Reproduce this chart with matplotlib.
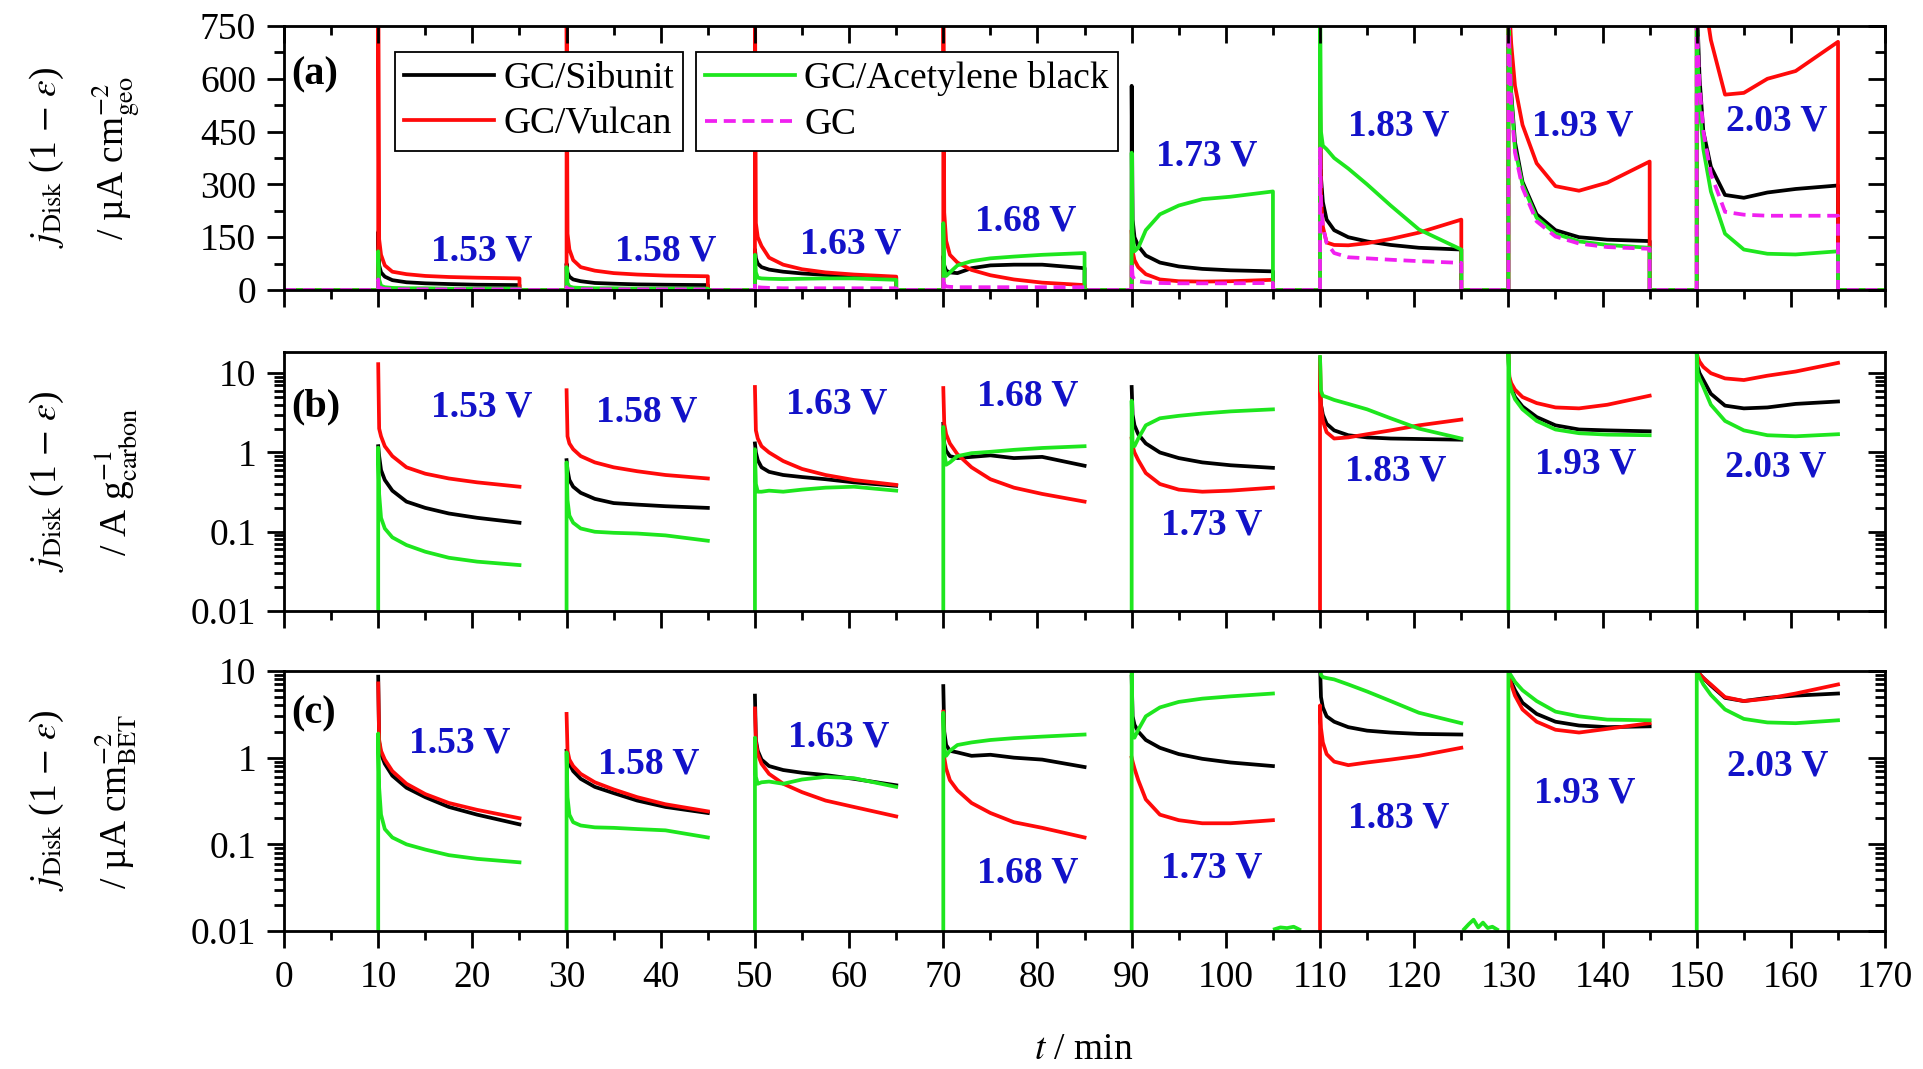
import numpy as np
import matplotlib.pyplot as plt
from matplotlib.ticker import MultipleLocator, FixedLocator, LogLocator, NullFormatter
from matplotlib.lines import Line2D

plt.rcParams['font.family'] = ['Liberation Serif', 'DejaVu Serif']
plt.rcParams['mathtext.fontset'] = 'stix'

# --- data ---
# potential steps: each held 15 min, starting at these times (min)
step_start = [10, 30, 50, 70, 90, 110, 130, 150]
step_len = 15
step_labels = ['1.53 V', '1.58 V', '1.63 V', '1.68 V', '1.73 V', '1.83 V', '1.93 V', '2.03 V']
# time offsets inside each step where values were read (min)
dt = [0, 0.1, 0.3, 0.7, 1.5, 3, 5, 7.5, 10.5, 15]

# (a) j_Disk(1-eps) / uA cm-2 geo
a_sibunit = [
    [165, 70, 50, 38, 28, 22, 19, 17, 15, 14],
    [75, 50, 38, 30, 25, 20, 18, 16, 15, 14],
    [115, 90, 75, 65, 58, 52, 47, 43, 39, 36],
    [96, 70, 55, 50, 48, 62, 70, 72, 72, 62],
    [580, 200, 150, 125, 98, 78, 67, 60, 56, 53],
    [500, 320, 250, 200, 170, 150, 138, 128, 120, 115],
    [900, 700, 560, 420, 307, 215, 170, 150, 143, 139],
    [900, 750, 600, 450, 350, 270, 262, 277, 287, 297],
]
a_vulcan = [
    [900, 144, 100, 70, 52, 45, 40, 37, 35, 33],
    [900, 160, 115, 85, 65, 55, 48, 44, 41, 39],
    [900, 190, 150, 125, 92, 72, 59, 50, 44, 38],
    [900, 220, 140, 100, 78, 57, 42, 30, 21, 14],
    [170, 110, 85, 65, 45, 30, 25, 24, 25, 29],
    [560, 260, 180, 135, 128, 127, 133, 145, 163, 200],
    [900, 800, 700, 580, 469, 360, 295, 282, 305, 365],
    [900, 900, 900, 850, 710, 555, 560, 600, 622, 705],
]
a_acetylene = [
    [110, 30, 12, 8, 6, 5, 5, 4, 4, 4],
    [65, 20, 10, 7, 6, 5, 5, 4, 4, 4],
    [100, 50, 35, 33, 32, 31, 32, 33, 33, 29],
    [190, 60, 40, 50, 70, 82, 90, 95, 100, 105],
    [390, 160, 110, 120, 170, 215, 240, 258, 265, 280],
    [900, 450, 410, 400, 375, 345, 300, 240, 172, 115],
    [900, 700, 550, 400, 300, 205, 160, 138, 128, 120],
    [900, 650, 520, 400, 280, 160, 115, 103, 101, 110],
]
a_gc = [
    [30, 10, 5, 3, 2, 2, 2, 2, 2, 2],
    [8, 4, 3, 2, 2, 2, 2, 2, 2, 2],
    [20, 10, 8, 7, 6, 5, 5, 5, 5, 5],
    [38, 15, 10, 9, 8, 8, 8, 8, 8, 8],
    [77, 40, 29, 25, 22, 20, 19, 19, 19, 20],
    [402, 250, 180, 134, 105, 93, 90, 86, 82, 77],
    [900, 680, 530, 390, 290, 195, 152, 132, 122, 117],
    [900, 700, 580, 450, 330, 222, 214, 211, 211, 211],
]

# (b) j_Disk(1-eps) / A g-1 carbon
b_sibunit = [
    [1.2, 0.9, 0.6, 0.45, 0.33, 0.24, 0.2, 0.17, 0.15, 0.13],
    [0.8, 0.6, 0.45, 0.37, 0.31, 0.26, 0.23, 0.22, 0.21, 0.2],
    [1.3, 1.0, 0.8, 0.65, 0.57, 0.52, 0.49, 0.46, 0.42, 0.38],
    [2.3, 1.3, 1.05, 0.9, 0.85, 0.88, 0.92, 0.85, 0.88, 0.68],
    [6.7, 3.0, 2.2, 1.7, 1.3, 1.0, 0.85, 0.75, 0.69, 0.64],
    [6.0, 4.0, 3.0, 2.3, 1.9, 1.65, 1.55, 1.5, 1.48, 1.45],
    [18, 8, 6.5, 5.0, 3.8, 2.8, 2.2, 1.95, 1.9, 1.85],
    [18, 12, 10, 8.2, 5.5, 3.9, 3.6, 3.7, 4.1, 4.4],
]
b_vulcan = [
    [13, 2.0, 1.6, 1.2, 0.9, 0.65, 0.54, 0.47, 0.42, 0.37],
    [6.1, 1.6, 1.3, 1.1, 0.9, 0.75, 0.65, 0.58, 0.52, 0.47],
    [6.7, 1.9, 1.5, 1.2, 1.0, 0.78, 0.62, 0.52, 0.45, 0.39],
    [6.5, 2.3, 1.7, 1.3, 0.95, 0.65, 0.46, 0.36, 0.3, 0.24],
    [1.5, 1.2, 1.0, 0.8, 0.55, 0.4, 0.34, 0.32, 0.33, 0.36],
    [16, 4.0, 2.5, 1.8, 1.5, 1.55, 1.7, 1.9, 2.2, 2.6],
    [18, 9, 7.5, 6.2, 5.0, 4.2, 3.7, 3.6, 4.0, 5.2],
    [18, 16, 14, 12, 10, 8.6, 8.2, 9.3, 10.5, 13.5],
]
b_acetylene = [
    [1.15, 0.3, 0.15, 0.11, 0.085, 0.068, 0.056, 0.047, 0.042, 0.038],
    [0.75, 0.25, 0.16, 0.13, 0.11, 0.1, 0.097, 0.095, 0.09, 0.077],
    [1.1, 0.4, 0.32, 0.32, 0.33, 0.32, 0.34, 0.36, 0.37, 0.33],
    [2.1, 1.0, 0.7, 0.75, 0.9, 0.98, 1.02, 1.08, 1.14, 1.2],
    [4.5, 1.3, 1.2, 1.5, 2.2, 2.7, 2.9, 3.1, 3.3, 3.5],
    [16, 6.0, 5.2, 5.0, 4.6, 4.1, 3.5, 2.7, 2.0, 1.5],
    [18.6, 8, 6.2, 4.7, 3.5, 2.5, 1.95, 1.75, 1.68, 1.65],
    [18, 10, 8.5, 6.7, 4.0, 2.5, 1.9, 1.65, 1.6, 1.7],
]

# (c) j_Disk(1-eps) / uA cm-2 BET
c_sibunit = [
    [8.6, 1.5, 1.1, 0.85, 0.62, 0.45, 0.35, 0.27, 0.22, 0.17],
    [1.2, 1.0, 0.85, 0.7, 0.57, 0.46, 0.39, 0.32, 0.27, 0.23],
    [5.2, 1.6, 1.2, 0.95, 0.8, 0.72, 0.67, 0.63, 0.57, 0.48],
    [6.7, 2.0, 1.4, 1.2, 1.15, 1.05, 1.08, 1.0, 0.95, 0.78],
    [8.6, 3.0, 2.4, 2.0, 1.6, 1.3, 1.1, 0.97, 0.88, 0.8],
    [12, 5.0, 3.8, 3.0, 2.6, 2.25, 2.05, 1.95, 1.88, 1.85],
    [12, 9, 7.5, 6, 4.3, 3.2, 2.6, 2.35, 2.25, 2.3],
    [12, 9.7, 9.2, 8.3, 6.8, 4.9, 4.5, 4.9, 5.2, 5.5],
]
c_vulcan = [
    [7.2, 1.6, 1.2, 0.95, 0.7, 0.5, 0.38, 0.3, 0.25, 0.2],
    [3.2, 1.2, 0.95, 0.8, 0.65, 0.52, 0.43, 0.35, 0.29, 0.24],
    [3.7, 1.5, 1.1, 0.85, 0.65, 0.5, 0.4, 0.32, 0.27, 0.21],
    [3.4, 1.0, 0.75, 0.55, 0.42, 0.3, 0.23, 0.18, 0.155, 0.12],
    [1.0, 0.9, 0.75, 0.55, 0.33, 0.22, 0.19, 0.175, 0.175, 0.19],
    [4.0, 2.2, 1.5, 1.1, 0.9, 0.82, 0.88, 0.95, 1.05, 1.3],
    [12, 8.5, 7, 5.2, 3.6, 2.6, 2.1, 1.95, 2.15, 2.5],
    [12, 9.7, 9.2, 8.3, 7.0, 5.0, 4.5, 4.8, 5.5, 7.0],
]
c_acetylene = [
    [1.9, 0.45, 0.22, 0.15, 0.12, 0.1, 0.087, 0.075, 0.068, 0.062],
    [1.15, 0.35, 0.22, 0.18, 0.165, 0.157, 0.155, 0.15, 0.145, 0.12],
    [1.7, 0.6, 0.5, 0.52, 0.53, 0.5, 0.56, 0.6, 0.58, 0.46],
    [3.3, 1.3, 1.05, 1.2, 1.4, 1.5, 1.6, 1.68, 1.75, 1.85],
    [12, 1.8, 1.7, 2.1, 3.0, 3.8, 4.4, 4.8, 5.1, 5.5],
    [12, 9, 8.5, 8.3, 8.0, 7.0, 5.8, 4.5, 3.3, 2.5],
    [12, 9.5, 8.8, 7.5, 6.0, 4.5, 3.4, 3.0, 2.75, 2.7],
    [12, 9.5, 8.5, 7.0, 5.3, 3.6, 2.8, 2.55, 2.5, 2.7],
]
# small green noise visible at the bottom of (c) between steps
c_gap_t = [105.2, 105.8, 106.5, 107.2, 107.8, None, 125.3, 125.8, 126.3, 126.8, 127.3, 127.8, 128.3, 128.8]
c_gap_v = [0.0105, 0.011, 0.0108, 0.0112, 0.0104, None, 0.0105, 0.012, 0.0135, 0.011, 0.0125, 0.0108, 0.0112, 0.0104]

# steps where the trace comes up from the bottom of the log axes
green_rise = [0, 1, 2, 3, 4, 6, 7]
red_rise = [5]

# label positions (t, value) per panel
a_lab_pos = [(21, 112), (40.5, 112), (60.2, 132), (78.7, 195), (98, 382), (118.3, 467), (137.9, 467), (158.5, 481)]
b_lab_pos = [(21, 3.8), (38.5, 3.2), (58.7, 4.1), (79, 5.2), (98.5, 0.12), (118, 0.59), (138.2, 0.71), (158.4, 0.65)]
c_lab_pos = [(18.6, 1.46), (38.7, 0.85), (58.9, 1.75), (79, 0.047), (98.5, 0.054), (118.3, 0.2), (138.1, 0.39), (158.6, 0.81)]

BLACK, RED, GREEN, MAG, BLUE = 'k', '#ff0a0a', '#1ee61e', '#f020f0', '#1212c8'
LW = 2.7
FS = 27


def linear_trace(segs):
    t, v = [0], [0]
    for t0, vals in zip(step_start, segs):
        t += [t0] + [t0 + d for d in dt] + [t0 + step_len]
        v += [0] + list(vals) + [0]
    t.append(170)
    v.append(0)
    return t, v


def log_trace(segs, rise):
    t, v = [], []
    for k, (t0, vals) in enumerate(zip(step_start, segs)):
        if k in rise:
            t.append(t0)
            v.append(1e-4)
        t += [t0 + d for d in dt] + [np.nan]
        v += list(vals) + [np.nan]
    return t, v


fig = plt.figure(figsize=(19.23, 10.69), dpi=100)
ax_a = fig.add_axes([0.1477, 0.7287, 0.8326, 0.247])
ax_b = fig.add_axes([0.1477, 0.4284, 0.8326, 0.2423])
ax_c = fig.add_axes([0.1477, 0.1291, 0.8326, 0.2432])

# panel (a)
for segs, col, ls in [(a_sibunit, BLACK, '-'), (a_vulcan, RED, '-'),
                      (a_acetylene, GREEN, '-'), (a_gc, MAG, '--')]:
    t, v = linear_trace(segs)
    line, = ax_a.plot(t, v, color=col, lw=LW, ls=ls)
    if ls == '--':
        line.set_dashes((3.2, 1.8))

# panels (b), (c)
for ax, sets in [(ax_b, [(b_sibunit, BLACK, []), (b_vulcan, RED, red_rise), (b_acetylene, GREEN, green_rise)]),
                 (ax_c, [(c_sibunit, BLACK, []), (c_vulcan, RED, red_rise), (c_acetylene, GREEN, green_rise)])]:
    for segs, col, rise in sets:
        t, v = log_trace(segs, rise)
        ax.plot(t, v, color=col, lw=LW)
gap_t = [np.nan if x is None else x for x in c_gap_t]
gap_v = [np.nan if x is None else x for x in c_gap_v]
ax_c.plot(gap_t, gap_v, color=GREEN, lw=LW)

ax_a.set_ylim(0, 750)
for ax, top in [(ax_b, 18.5), (ax_c, 10)]:
    ax.set_yscale('log')
    ax.set_ylim(0.01, top)


def style_y(ax):
    if ax.get_yscale() == 'log':
        ax.yaxis.set_major_locator(FixedLocator([0.01, 0.1, 1, 10]))
        ax.yaxis.set_minor_locator(LogLocator(base=10, subs=np.arange(2, 10)))
        ax.yaxis.set_minor_formatter(NullFormatter())
    else:
        ax.yaxis.set_major_locator(MultipleLocator(150))
        ax.yaxis.set_minor_locator(MultipleLocator(75))


for ax in (ax_a, ax_b, ax_c):
    ax.set_xlim(0, 170)
    ax.xaxis.set_major_locator(MultipleLocator(10))
    ax.xaxis.set_minor_locator(MultipleLocator(5))
    style_y(ax)
    for s in ax.spines.values():
        s.set_linewidth(2.0)
    ax.tick_params(axis='x', which='major', direction='out', length=12, width=2, labelsize=FS, pad=9)
    ax.tick_params(axis='x', which='minor', direction='out', length=6.5, width=2)
    ax.tick_params(axis='y', which='both', direction='out', right=False, width=2, labelsize=FS, pad=8)
    ax.tick_params(axis='y', which='major', length=12)
    ax.tick_params(axis='y', which='minor', length=7)
    if ax.get_yscale() == 'log':
        ax.set_yticks([0.01, 0.1, 1, 10])
        ax.set_yticklabels(['0.01', '0.1', '1', '10'])

    # right-hand ticks point inward
    tw = ax.twinx()
    tw.set_yscale(ax.get_yscale())
    tw.set_ylim(ax.get_ylim())
    style_y(tw)
    tw.tick_params(axis='y', which='both', direction='in', width=2, labelright=False)
    tw.tick_params(axis='y', which='major', length=12)
    tw.tick_params(axis='y', which='minor', length=7)
    tw.yaxis.set_minor_formatter(NullFormatter())

ax_a.tick_params(axis='x', labelbottom=False)
ax_b.tick_params(axis='x', labelbottom=False)

# top ticks of (a): inward
tt = ax_a.twiny()
tt.set_xlim(0, 170)
tt.xaxis.set_major_locator(MultipleLocator(10))
tt.xaxis.set_minor_locator(MultipleLocator(5))
tt.tick_params(axis='x', which='both', direction='in', width=2, labeltop=False)
tt.tick_params(axis='x', which='major', length=12)
tt.tick_params(axis='x', which='minor', length=6.5)

# step labels
for ax, pos in [(ax_a, a_lab_pos), (ax_b, b_lab_pos), (ax_c, c_lab_pos)]:
    for (x, y), s in zip(pos, step_labels):
        ax.text(x, y, s, color=BLUE, fontsize=FS, fontweight='bold', ha='center', va='center')

ax_a.text(0.8, 612, '(a)', fontsize=FS + 2, fontweight='bold', ha='left', va='center')
ax_b.text(0.8, 3.8, '(b)', fontsize=FS + 2, fontweight='bold', ha='left', va='center')
ax_c.text(0.8, 3.2, '(c)', fontsize=FS + 2, fontweight='bold', ha='left', va='center')


# two legend boxes
def handle(col, ls='-'):
    h = Line2D([], [], color=col, lw=LW, ls=ls)
    if ls == '--':
        h.set_dashes((3.2, 1.8))
    return h


leg_kw = dict(fontsize=FS, frameon=True, fancybox=False, framealpha=1, edgecolor='k',
              loc='upper left', borderaxespad=0, handlelength=2.4, handletextpad=0.25,
              borderpad=0.25, labelspacing=0.3)
leg1 = tt.legend([handle(BLACK), handle(RED)], ['GC/Sibunit', 'GC/Vulcan'],
                 bbox_to_anchor=(0.069, 0.902), **leg_kw)
leg1.get_frame().set_linewidth(1.3)
tt.add_artist(leg1)
leg2 = tt.legend([handle(GREEN), handle(MAG, '--')], ['GC/Acetylene black', 'GC'],
                 bbox_to_anchor=(0.257, 0.902), **leg_kw)
leg2.get_frame().set_linewidth(1.3)

# y labels, two lines each
ylab2 = [r'/ µA cm$^{-2}_{\mathrm{geo}}$', r'/ A g$^{-1}_{\mathrm{carbon}}$', r'/ µA cm$^{-2}_{\mathrm{BET}}$']
for ax, l2 in zip((ax_a, ax_b, ax_c), ylab2):
    bb = ax.get_position()
    yc = (bb.y0 + bb.y1) / 2
    fig.text(0.0244, yc, r'$j_{\mathrm{Disk}}$ (1 $-$ $\varepsilon$)', rotation=90,
             fontsize=FS, ha='center', va='center')
    fig.text(0.0603, yc, l2, rotation=90, fontsize=FS, ha='center', va='center')

fig.text(0.5637, 0.018, r'$t$ / min', fontsize=FS, ha='center', va='center')

fig.savefig('out.png', dpi=100)
